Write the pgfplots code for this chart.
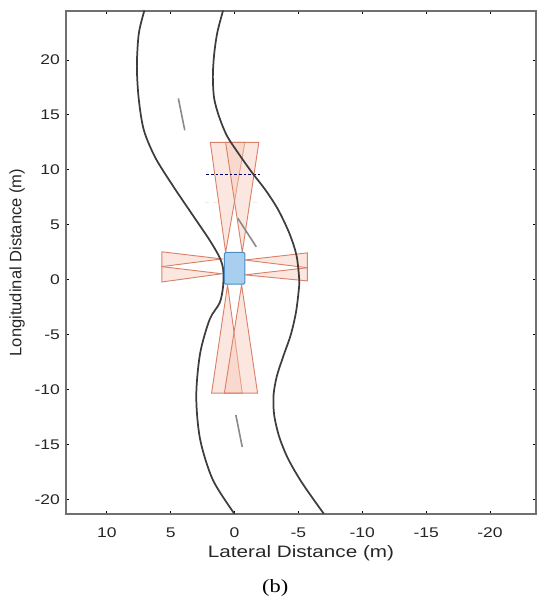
\documentclass[border=0pt]{standalone}
\usepackage{pgfplots}
\pgfplotsset{compat=1.18}
\usepackage{fontspec}
\setmainfont{Liberation Sans}[FakeStretch=1.25]
\newfontfamily\ylabfont{Liberation Sans}
\newfontfamily\capfont{Liberation Serif}[FakeStretch=1.2]
\definecolor{road}{HTML}{3D3D3D}
\definecolor{lane}{HTML}{8A8A8A}
\definecolor{coneedge}{HTML}{D9826A}
\definecolor{conefill}{HTML}{F6C9B8}
\definecolor{carfill}{HTML}{A8CFEE}
\definecolor{caredge}{HTML}{4A8CC4}
\definecolor{axgray}{HTML}{707070}
\begin{document}
\begin{tikzpicture}
\path[use as bounding box] (-49.5pt,-66pt) rectangle (352.5pt,385.5pt);
\begin{axis}[
    at={(0,0)}, anchor=south west,
    scale only axis,
    width=352.5pt, height=377.25pt,
    x dir=reverse,
    xmin=-23.6, xmax=13.2,
    ymin=-21.3, ymax=24.45,
    xtick={-20,-15,...,10},
    ytick={-20,-15,...,20},
    tick align=inside,
    major tick length=2.5pt,
    axis line style={axgray, line width=0.9pt},
    tick style={black, line width=0.6pt},
    /pgf/number format/assume math mode=true,
    ticklabel style={font=\fontsize{10.5}{12}\selectfont, text=black!85},
    xticklabel style={yshift=-6.5pt},
    yticklabel style={xshift=-1pt},
    xlabel={Lateral Distance (m)},
    ylabel={\ylabfont Longitudinal Distance (m)},
    label style={font=\fontsize{12.4}{14}\selectfont, text=black!85},
    xlabel style={at={(axis description cs:0.5,-0.078)}, anchor=center},
    ylabel style={at={(axis description cs:-0.104,0.5)}, anchor=center},
]
% sensor coverage: front
\addplot[draw=coneedge, line width=0.7pt, fill=conefill, fill opacity=0.45]
    coordinates {(0.7,2.5) (1.9,12.5) (-0.8,12.5)} -- cycle;
\addplot[draw=coneedge, line width=0.7pt, fill=conefill, fill opacity=0.45]
    coordinates {(-0.6,2.5) (0.7,12.5) (-1.9,12.5)} -- cycle;
% rear
\addplot[draw=coneedge, line width=0.7pt, fill=conefill, fill opacity=0.45]
    coordinates {(0.55,-0.45) (1.8,-10.3) (-0.6,-10.3)} -- cycle;
\addplot[draw=coneedge, line width=0.7pt, fill=conefill, fill opacity=0.45]
    coordinates {(-0.55,-0.45) (0.8,-10.3) (-1.8,-10.3)} -- cycle;
% left side
\addplot[draw=coneedge, line width=0.7pt, fill=conefill, fill opacity=0.45]
    coordinates {(1.0,1.9) (5.7,2.55) (5.7,1.2)} -- cycle;
\addplot[draw=coneedge, line width=0.7pt, fill=conefill, fill opacity=0.45]
    coordinates {(1.0,0.55) (5.7,1.2) (5.7,-0.2)} -- cycle;
% right side
\addplot[draw=coneedge, line width=0.7pt, fill=conefill, fill opacity=0.45]
    coordinates {(-0.8,1.8) (-5.7,2.45) (-5.7,1.1)} -- cycle;
\addplot[draw=coneedge, line width=0.7pt, fill=conefill, fill opacity=0.45]
    coordinates {(-0.8,0.45) (-5.7,1.1) (-5.7,-0.1)} -- cycle;
% faint and blue dashed lines
\addplot[black!8, dashed, line width=0.6pt] coordinates {(2.3,7.0) (-2.0,7.0)};
\addplot[blue!40!black, line width=0.7pt, dash pattern=on 2pt off 1.5pt]
    coordinates {(2.2,9.6) (-2.1,9.6)};
% road boundaries
\addplot[road, line width=1.3pt, smooth] coordinates {
    (7.06,24.5) (7.5,22.4) (7.65,19.4) (7.5,16.4) (7.1,13.6) (6.2,11.1)
    (4.8,8.5) (3.2,5.75) (1.95,3.6) (1.2,2.1) (0.9,1.0) (0.9,-0.6)
    (1.17,-2.1) (1.95,-3.6) (2.7,-6.7) (3.0,-10.6) (2.7,-14.5)
    (1.7,-18.2) (0,-21.3)
};
\addplot[road, line width=1.3pt, smooth] coordinates {
    (0.9,24.5) (1.35,22.5) (1.6,20.5) (1.7,18.5) (1.6,16.5) (1.2,14.8)
    (0.6,13.1) (-0.3,11.5) (-1.4,9.7) (-2.4,8.2) (-3.4,6.4) (-4.3,4.2)
    (-4.85,2.2) (-5.06,0) (-5.0,-1.2) (-4.8,-3) (-4.4,-5) (-3.8,-7)
    (-3.3,-8.8) (-3.05,-10.5) (-3.1,-12.3) (-3.5,-14.3) (-4.2,-16.3)
    (-5.3,-18.5) (-7.0,-21.3)
};
% lane marks
\addplot[lane, line width=1.2pt] coordinates {(4.4,16.5) (3.9,13.6)};
\addplot[lane, line width=1.2pt] coordinates {(-0.25,5.6) (-1.7,3.0)};
\addplot[lane, line width=1.2pt] coordinates {(-0.1,-12.3) (-0.6,-15.2)};
% ego vehicle
\addplot[draw=caredge, line width=0.8pt, fill=carfill, rounded corners=1pt]
    coordinates {(0.8,-0.4) (-0.8,-0.4) (-0.8,2.5) (0.8,2.5)} -- cycle;
\end{axis}
\node[font=\capfont\fontsize{14}{16}\selectfont] at (156.9pt,-55.5pt) {(b)};
\end{tikzpicture}
\end{document}
